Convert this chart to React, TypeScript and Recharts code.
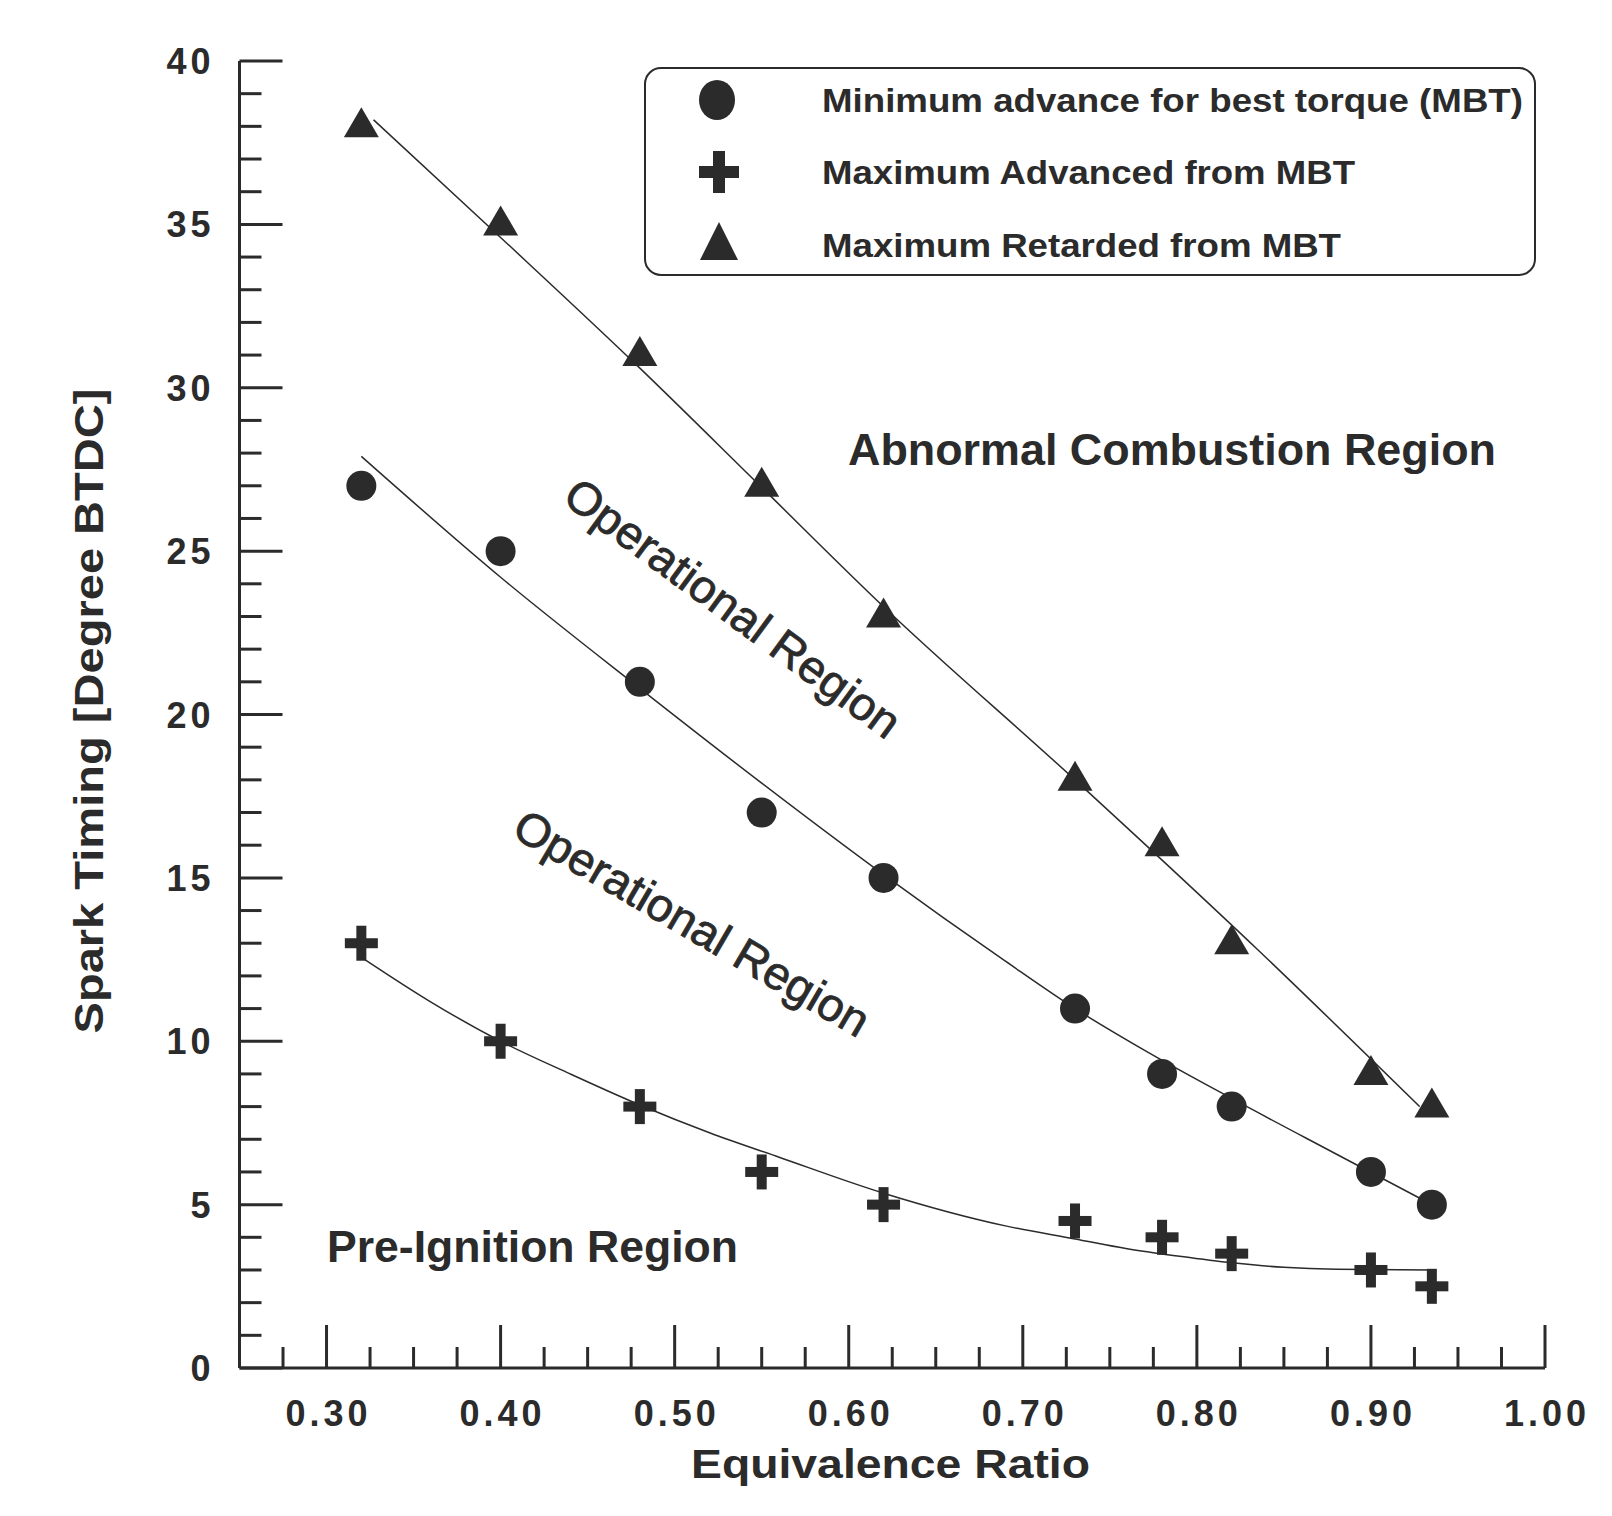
import React from 'react';
import { ScatterChart, Scatter, XAxis, YAxis } from 'recharts';

const INK = '#2b2b2b';
const FONT = '"Liberation Sans", Arial, Helvetica, sans-serif';

// measured points (equivalence ratio vs spark timing, deg BTDC)
const ratio = [0.32, 0.4, 0.48, 0.55, 0.62, 0.73, 0.78, 0.82, 0.9, 0.935];
const mbtTiming = [27, 25, 21, 17, 15, 11, 9, 8, 6, 5];
const advancedTiming = [13, 10, 8, 6, 5, 4.5, 4, 3.5, 3, 2.5];
const retardedTiming = [38, 35, 31, 27, 23, 18, 16, 13, 9, 8];

// trend curves
const retardedFitX = [0.327, 0.4, 0.48, 0.55, 0.62, 0.73, 0.835, 0.928];
const retardedFitY = [38.2, 34.6, 30.6, 26.95, 23.3, 18.0, 12.8, 8.0];
const mbtFitX = [0.32, 0.4, 0.48, 0.55, 0.62, 0.69, 0.73, 0.77, 0.82, 0.88, 0.935];
const mbtFitY = [27.9, 24.2, 20.8, 17.9, 15.1, 12.45, 11.0, 9.72, 8.25, 6.55, 5.0];
const advancedFitX = [0.322, 0.36, 0.4, 0.44, 0.48, 0.52, 0.56, 0.62, 0.69, 0.73, 0.76, 0.79, 0.82, 0.85, 0.88, 0.934];
const advancedFitY = [12.5, 11.2, 10.0, 9.0, 8.05, 7.2, 6.45, 5.35, 4.35, 3.95, 3.65, 3.42, 3.22, 3.08, 3.02, 3.0];

const xMajorTicks = [0.3, 0.4, 0.5, 0.6, 0.7, 0.8, 0.9, 1.0];
const xTickLabels = ['0.30', '0.40', '0.50', '0.60', '0.70', '0.80', '0.90', '1.00'];
const yMajorTicks = [0, 5, 10, 15, 20, 25, 30, 35, 40];
const yTickLabels = ['0', '5', '10', '15', '20', '25', '30', '35', '40'];

const legendLabels = [
  'Minimum advance for best torque (MBT)',
  'Maximum Advanced from MBT',
  'Maximum Retarded from MBT',
];

// minor ticks every 0.025 / every 1 degree
const xTicks = Array.from({ length: 30 }, (_, i) => +(0.275 + i * 0.025).toFixed(3));
const yTicks = Array.from({ length: 41 }, (_, i) => i);

const toPoints = (xs: number[], ys: number[]) => xs.map((x, i) => ({ x, y: ys[i] }));

const mbtData = toPoints(ratio, mbtTiming);
const advancedData = toPoints(ratio, advancedTiming);
const retardedData = toPoints(ratio, retardedTiming);
const mbtFit = toPoints(mbtFitX, mbtFitY);
const advancedFit = toPoints(advancedFitX, advancedFitY);
const retardedFit = toPoints(retardedFitX, retardedFitY);

const Dot = ({ cx, cy, rx = 15, ry = 15 }: any) => <ellipse cx={cx} cy={cy} rx={rx} ry={ry} fill={INK} />;

const Cross = ({ cx, cy, w = 33, h = 35, t = 10 }: any) => (
  <g fill={INK}>
    <rect x={cx - w / 2} y={cy - t / 2} width={w} height={t} />
    <rect x={cx - t / 2} y={cy - h / 2} width={t} height={h} />
  </g>
);

const Tri = ({ cx, cy, w = 35, up = 19, down = 11 }: any) => (
  <polygon points={`${cx},${cy - up} ${cx + w / 2},${cy + down} ${cx - w / 2},${cy + down}`} fill={INK} />
);

const findMajor = (list: number[], v: number) => list.findIndex((m) => Math.abs(m - v) < 1e-6);

const XTick = (props: any) => {
  const { x, y, payload } = props;
  const idx = findMajor(xMajorTicks, payload.value);
  const major = idx >= 0;
  return (
    <g>
      <line x1={x} x2={x} y1={y} y2={y - (major ? 43 : 21)} stroke={INK} strokeWidth={3} />
      {major && (
        <text x={x + 2} y={y + 58} textAnchor="middle" fontFamily={FONT} fontWeight="bold" fontSize={36} letterSpacing={4} fill={INK}>
          {xTickLabels[idx]}
        </text>
      )}
    </g>
  );
};

const YTick = (props: any) => {
  const { x, y, payload } = props;
  const idx = findMajor(yMajorTicks, payload.value);
  const major = idx >= 0;
  return (
    <g>
      <line x1={x} x2={x + (major ? 43 : 22)} y1={y} y2={y} stroke={INK} strokeWidth={3} />
      {major && (
        <text x={x - 25} y={y + 13} textAnchor="end" fontFamily={FONT} fontWeight="bold" fontSize={36} letterSpacing={4} fill={INK}>
          {yTickLabels[idx]}
        </text>
      )}
    </g>
  );
};

const noMark = () => <g />;
const fitLine = { stroke: INK, strokeWidth: 1.5 };

const regionText = { fontFamily: FONT, fontWeight: 'bold' as const, fontSize: 44, fill: INK };
// slanted labels sit between regular and bold in the original
const slantText = { fontFamily: FONT, fontWeight: 'normal' as const, fontSize: 46, fill: INK, stroke: INK, strokeWidth: 0.8 };

export default function App() {
  return (
    <div style={{ position: 'absolute', left: 0, top: 0, width: 1612, height: 1516, background: '#fff' }}>
      <ScatterChart width={1612} height={1516} margin={{ top: 61, right: 67, bottom: 48, left: 99.5 }}>
        <XAxis
          type="number"
          dataKey="x"
          domain={[0.25, 1]}
          ticks={xTicks}
          interval={0}
          tickSize={0}
          tickMargin={0}
          tickLine={false}
          tick={<XTick />}
          axisLine={{ stroke: INK, strokeWidth: 3 }}
          height={100}
          allowDataOverflow
        />
        <YAxis
          type="number"
          dataKey="y"
          domain={[0, 40]}
          ticks={yTicks}
          interval={0}
          tickSize={0}
          tickMargin={0}
          tickLine={false}
          tick={<YTick />}
          axisLine={{ stroke: INK, strokeWidth: 3 }}
          width={140}
          allowDataOverflow
        />
        <Scatter data={retardedFit} line={fitLine} lineJointType="monotoneX" shape={noMark} isAnimationActive={false} />
        <Scatter data={mbtFit} line={fitLine} lineJointType="monotoneX" shape={noMark} isAnimationActive={false} />
        <Scatter data={advancedFit} line={fitLine} lineJointType="monotoneX" shape={noMark} isAnimationActive={false} />
        <Scatter data={mbtData} shape={(p: any) => <Dot cx={p.cx} cy={p.cy} />} isAnimationActive={false} />
        <Scatter data={advancedData} shape={(p: any) => <Cross cx={p.cx} cy={p.cy} />} isAnimationActive={false} />
        <Scatter data={retardedData} shape={(p: any) => <Tri cx={p.cx} cy={p.cy} />} isAnimationActive={false} />
      </ScatterChart>

      <svg width={1612} height={1516} style={{ position: 'absolute', left: 0, top: 0, pointerEvents: 'none' }}>
        {/* legend */}
        <rect x={645} y={68} width={890} height={207} rx={16} ry={16} fill="none" stroke={INK} strokeWidth={2} />
        <Dot cx={717} cy={100} rx={18} ry={20} />
        <Cross cx={719} cy={172} w={40} h={42} t={12} />
        <Tri cx={719} cy={247} w={38} up={25} down={13} />
        {legendLabels.map((label, i) => (
          <text
            key={label}
            x={822}
            y={[112, 184, 257][i]}
            fontFamily={FONT}
            fontWeight="bold"
            fontSize={33}
            fill={INK}
            textLength={[701, 533, 519][i]}
            lengthAdjust="spacingAndGlyphs"
          >
            {label}
          </text>
        ))}

        {/* region annotations */}
        <text x={848} y={465} textLength={648} lengthAdjust="spacingAndGlyphs" {...regionText}>
          Abnormal Combustion Region
        </text>
        <text x={327} y={1262} textLength={411} lengthAdjust="spacingAndGlyphs" {...regionText}>
          Pre-Ignition Region
        </text>
        <text transform="translate(733,608) rotate(36.3)" y={16} textAnchor="middle" textLength={404} lengthAdjust="spacingAndGlyphs" {...slantText}>
          Operational Region
        </text>
        <text transform="translate(692,923) rotate(30.3)" y={16} textAnchor="middle" textLength={403} lengthAdjust="spacingAndGlyphs" {...slantText}>
          Operational Region
        </text>

        {/* axis titles */}
        <text x={691} y={1478} textLength={399} lengthAdjust="spacingAndGlyphs" fontFamily={FONT} fontWeight="bold" fontSize={41} fill={INK}>
          Equivalence Ratio
        </text>
        <text transform="translate(103,711) rotate(-90)" textAnchor="middle" textLength={645} lengthAdjust="spacingAndGlyphs" fontFamily={FONT} fontWeight="bold" fontSize={41} fill={INK}>
          Spark Timing [Degree BTDC]
        </text>
      </svg>
    </div>
  );
}
